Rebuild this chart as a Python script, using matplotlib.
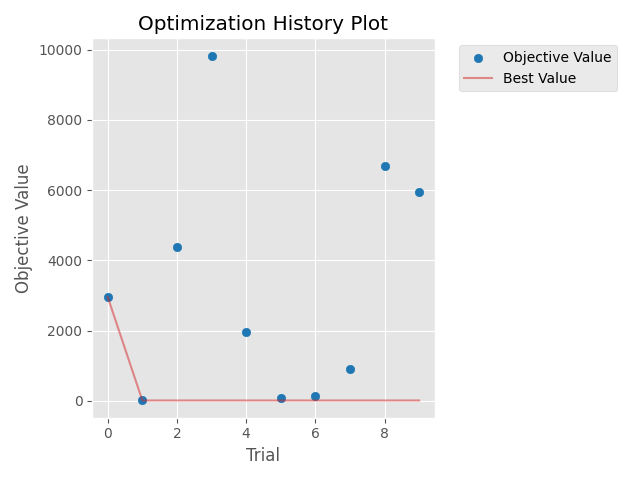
import matplotlib
matplotlib.use("Agg")
import matplotlib.pyplot as plt

trials = [0, 1, 2, 3, 4, 5, 6, 7, 8, 9]
objective_values = [2955, 8, 4370, 9830, 1950, 65, 125, 895, 6680, 5940]
best_values = [2955, 8, 8, 8, 8, 8, 8, 8, 8, 8]

plt.style.use("ggplot")
fig, ax = plt.subplots(figsize=(6.4, 4.8), dpi=100)
ax.set_title("Optimization History Plot")
ax.set_xlabel("Trial")
ax.set_ylabel("Objective Value")
cmap = plt.get_cmap("tab10")
ax.scatter(trials, objective_values, color=cmap(0), alpha=1, label="Objective Value")
ax.plot(trials, best_values, color=cmap(3), alpha=0.5, label="Best Value")
ax.legend(bbox_to_anchor=(1.05, 1.0), loc="upper left")
plt.tight_layout()
fig.savefig("out.png")
